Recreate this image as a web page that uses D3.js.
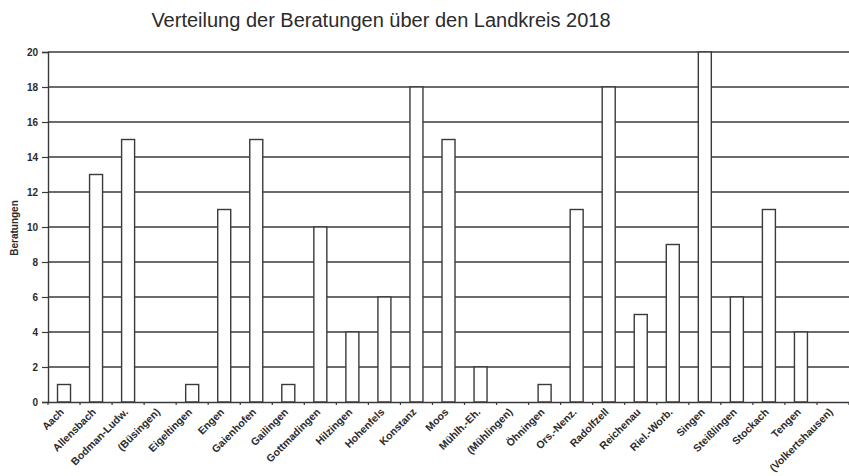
<!DOCTYPE html>
<html>
<head>
<meta charset="utf-8">
<script src="https://cdn.jsdelivr.net/npm/d3@7"></script>
<style>
  body { margin: 0; background: #fff; }
  svg { display: block; }
  text { font-family: "Liberation Sans", Arial, sans-serif; fill: #2b2b2b; }
</style>
</head>
<body>
<script>
// Beratungen je Gemeinde 2018
var gemeinden = ["Aach", "Allensbach", "Bodman-Ludw.", "(Büsingen)", "Eigeltingen", "Engen",
    "Gaienhofen", "Gailingen", "Gottmadingen", "Hilzingen", "Hohenfels", "Konstanz", "Moos",
    "Mühlh.-Eh.", "(Mühlingen)", "Öhningen", "Ors.-Nenz.", "Radolfzell", "Reichenau",
    "Riel.-Worb.", "Singen", "Steißlingen", "Stockach", "Tengen", "(Volkertshausen)"];
var beratungen = [1, 13, 15, 0, 1, 11, 15, 1, 10, 4, 6, 18, 15, 2, 0, 1, 11, 18, 5, 9, 20, 6, 11, 4, 0];
var yTicks = [0, 2, 4, 6, 8, 10, 12, 14, 16, 18, 20];

var width = 849, height = 476;
var margin = {top: 52, left: 48, bottom: 74};

var svg = d3.select("body").append("svg")
    .attr("width", width)
    .attr("height", height);

var x = d3.scaleBand()
    .domain(gemeinden)
    .range([margin.left, width])
    .paddingInner(0)
    .paddingOuter(0);

var y = d3.scaleLinear()
    .domain([0, 20])
    .range([402, margin.top]);

var lineColor = "#3a3a3a";

// title
svg.append("text")
    .attr("x", 381)
    .attr("y", 27)
    .attr("text-anchor", "middle")
    .style("font-size", "20px")
    .text("Verteilung der Beratungen über den Landkreis 2018");

// gridlines
svg.append("g").selectAll("line")
    .data(yTicks.filter(d => d > 0))
    .enter().append("line")
        .attr("x1", margin.left)
        .attr("x2", width)
        .attr("y1", d => y(d))
        .attr("y2", d => y(d))
        .attr("stroke", lineColor)
        .attr("stroke-width", 1.3);

// bars
var barW = 13;
svg.append("g").selectAll("rect")
    .data(beratungen)
    .enter().append("rect")
        .attr("x", (d, i) => x(gemeinden[i]) + x.bandwidth() / 2 - barW / 2)
        .attr("y", d => y(d))
        .attr("width", barW)
        .attr("height", d => y(0) - y(d))
        .attr("fill", d => d > 0 ? "#fff" : "none")
        .attr("stroke", d => d > 0 ? lineColor : "none")
        .attr("stroke-width", 1.4);

// y axis
var yAxis = svg.append("g")
    .attr("transform", "translate(" + margin.left + ",0)")
    .call(d3.axisLeft(y).tickValues(yTicks).tickSize(6).tickPadding(4));
yAxis.select(".domain").attr("stroke", lineColor).attr("stroke-width", 1.4);
yAxis.selectAll(".tick line").attr("stroke", lineColor).attr("stroke-width", 1.2);
yAxis.selectAll(".tick text")
    .style("font-size", "10px")
    .style("font-weight", "bold")
    .attr("fill", "#2b2b2b");

// x axis
var xAxis = svg.append("g")
    .attr("transform", "translate(0," + y(0) + ")")
    .call(d3.axisBottom(x).tickSize(0).tickPadding(0));
xAxis.select(".domain").attr("stroke", lineColor).attr("stroke-width", 1.4);
xAxis.selectAll(".tick text")
    .style("font-size", "10.5px")
    .style("font-weight", "bold")
    .attr("fill", "#2b2b2b")
    .attr("text-anchor", "end")
    .attr("transform", "translate(-2,8) rotate(-45)")
    .attr("dy", "0.35em");

// small boundary ticks between categories
svg.append("g").selectAll("line")
    .data(d3.range(gemeinden.length + 1))
    .enter().append("line")
        .attr("x1", i => margin.left + i * x.step())
        .attr("x2", i => margin.left + i * x.step())
        .attr("y1", y(0))
        .attr("y2", y(0) + 3)
        .attr("stroke", lineColor)
        .attr("stroke-width", 1.2);

// y label
svg.append("text")
    .attr("transform", "translate(18,228) rotate(-90)")
    .attr("text-anchor", "middle")
    .style("font-size", "10px")
    .style("font-weight", "bold")
    .text("Beratungen");
</script>
</body>
</html>
